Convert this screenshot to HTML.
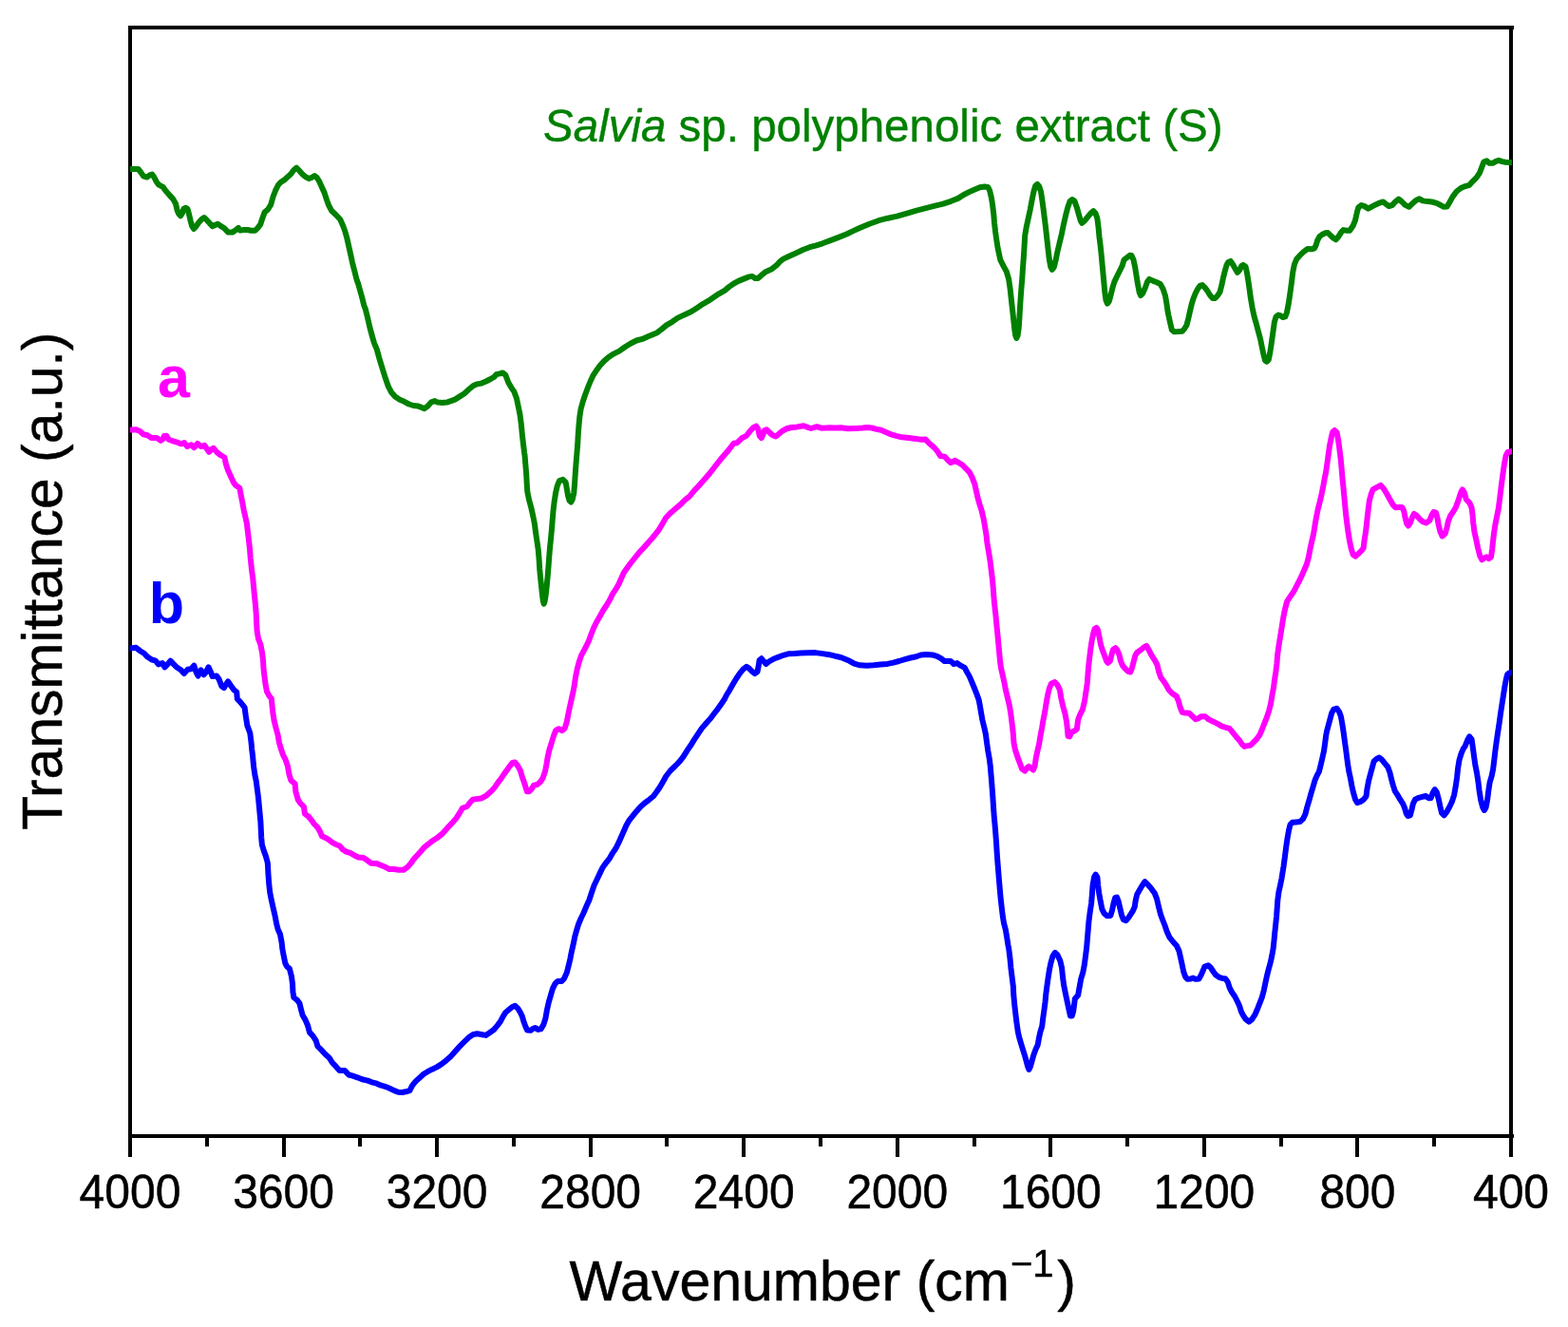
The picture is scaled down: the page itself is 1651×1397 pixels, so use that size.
<!DOCTYPE html>
<html lang="en">
<head>
<meta charset="utf-8">
<title>FTIR spectra</title>
<style>
html,body{margin:0;padding:0;background:#fff;}
body{width:1651px;height:1397px;overflow:hidden;font-family:"Liberation Sans",sans-serif;}
svg{display:block;}
text{font-family:"Liberation Sans",sans-serif;}
</style>
</head>
<body>
<svg width="1651" height="1397" viewBox="0 0 1651 1397">
<rect x="0" y="0" width="1651" height="1397" fill="#ffffff"/>
<g shape-rendering="crispEdges" fill="#000">
<rect x="135" y="27" width="1459" height="4"/>
<rect x="135" y="1194" width="1459" height="4"/>
<rect x="135" y="27" width="4" height="1191"/>
<rect x="1589" y="27" width="4" height="1191"/>
</g>
<clipPath id="plotclip"><rect x="137" y="20" width="1455" height="1180"/></clipPath>
<g fill="none" stroke-linejoin="round" stroke-linecap="butt" stroke-width="6.0" clip-path="url(#plotclip)">
<path stroke="#008000" d="M133.0,178.1 L137.1,178.1 L145.6,177.9 L148.6,181.8 L151.0,185.4 L154.7,186.6 L157.7,184.4 L160.1,183.6 L162.3,186.6 L165.2,192.1 L167.4,194.7 L171.6,196.9 L174.8,201.2 L178.4,205.4 L182.3,209.6 L185.0,214.5 L186.7,221.8 L188.3,225.4 L190.2,227.2 L192.0,224.2 L193.4,219.9 L195.3,218.7 L197.4,219.9 L199.0,225.4 L200.7,232.7 L202.2,238.1 L204.0,240.9 L206.6,238.1 L210.0,233.3 L212.8,230.4 L214.9,229.0 L217.5,231.4 L220.8,235.1 L223.7,238.1 L226.8,236.9 L229.2,235.7 L232.2,237.9 L235.2,239.6 L237.6,241.7 L240.1,244.5 L244.9,244.5 L248.6,241.8 L251.0,239.9 L252.8,242.4 L257.0,242.1 L260.7,242.0 L264.3,242.7 L268.5,242.7 L271.5,239.9 L274.2,236.3 L276.6,229.0 L278.6,223.6 L282.1,220.5 L285.1,215.7 L287.5,207.2 L289.8,201.2 L293.1,194.5 L295.8,191.7 L299.4,189.4 L303.1,186.1 L306.4,183.0 L309.5,178.8 L312.2,176.7 L315.0,179.5 L318.3,183.2 L321.8,186.3 L325.4,188.0 L328.5,186.7 L331.3,185.0 L333.6,186.8 L336.2,191.0 L338.9,197.1 L341.5,202.6 L343.8,209.8 L346.0,215.9 L349.0,221.7 L353.3,225.7 L358.2,231.0 L361.2,237.7 L363.4,243.7 L365.4,251.0 L367.3,259.5 L369.2,268.0 L371.0,276.4 L373.2,284.9 L375.3,293.4 L377.4,299.5 L379.4,306.7 L381.1,312.8 L383.2,321.3 L384.9,325.7 L387.0,334.2 L389.5,345.1 L391.8,353.6 L393.9,360.9 L396.9,368.1 L399.2,376.6 L401.4,383.9 L404.0,392.4 L406.3,399.6 L408.9,406.9 L412.1,413.0 L416.0,417.5 L420.9,420.7 L425.7,422.8 L430.6,425.5 L435.4,427.0 L440.3,427.6 L443.9,428.9 L446.9,430.2 L450.6,427.3 L454.2,423.3 L457.8,422.1 L460.9,423.6 L465.7,424.0 L470.5,423.6 L474.8,422.1 L479.0,420.6 L483.3,417.9 L488.7,414.4 L493.6,410.0 L498.4,406.0 L502.0,404.4 L506.9,403.6 L511.7,401.5 L516.6,399.0 L520.2,396.9 L522.6,394.2 L526.3,393.3 L529.3,392.4 L532.3,394.8 L535.3,402.7 L538.4,408.1 L541.4,412.4 L544.0,419.6 L545.8,428.1 L547.5,436.6 L548.8,446.3 L549.8,457.2 L550.9,466.9 L552.1,476.6 L552.6,480.0 L553.4,489.7 L554.2,499.4 L554.7,509.1 L555.3,517.6 L557.0,526.0 L559.3,534.5 L561.2,543.0 L562.9,551.5 L564.0,560.0 L565.4,569.6 L566.8,579.3 L567.6,589.0 L568.2,598.7 L569.1,608.4 L570.0,616.9 L570.9,625.4 L571.8,632.6 L572.7,635.7 L573.7,632.6 L574.8,625.4 L575.7,616.9 L576.6,607.2 L577.5,596.3 L578.2,586.6 L579.0,576.9 L580.0,567.2 L580.9,557.5 L581.7,547.8 L582.5,538.1 L583.6,528.5 L585.1,518.8 L586.8,511.5 L589.0,506.0 L592.7,504.8 L595.7,507.9 L596.9,515.1 L598.2,522.4 L599.6,527.2 L601.2,528.5 L602.7,526.0 L604.3,518.8 L605.1,509.1 L605.7,499.4 L606.4,489.7 L607.2,480.0 L607.4,477.8 L608.2,468.1 L608.7,458.4 L609.4,448.7 L610.3,439.0 L611.6,430.5 L613.6,423.3 L616.0,416.0 L618.7,408.7 L621.6,401.5 L624.4,395.4 L627.6,390.6 L631.6,385.1 L635.7,380.5 L640.5,376.2 L646.0,372.6 L652.0,369.6 L658.1,365.3 L664.2,361.5 L670.2,358.5 L676.3,356.9 L682.3,354.3 L687.2,352.2 L692.0,350.2 L696.9,346.4 L701.7,342.4 L707.8,338.8 L713.3,334.9 L720.6,331.4 L727.9,328.1 L733.9,324.2 L740.0,320.1 L746.0,316.7 L752.1,312.6 L756.9,309.3 L763.0,305.9 L767.8,301.9 L772.7,298.5 L777.5,295.9 L783.6,293.4 L788.4,291.4 L792.1,290.9 L795.1,293.0 L798.1,293.0 L801.8,289.7 L806.6,285.9 L812.7,283.2 L817.5,279.4 L821.1,275.4 L824.8,272.6 L830.8,269.7 L838.1,266.4 L845.4,263.0 L852.6,260.2 L858.7,258.6 L866.0,256.3 L874.4,253.1 L882.9,249.9 L891.4,246.5 L897.3,243.6 L905.7,239.7 L915.4,235.7 L925.1,232.2 L934.8,229.7 L944.5,227.6 L954.2,224.8 L965.1,221.6 L974.8,219.2 L984.5,216.7 L993.0,214.6 L1001.4,211.8 L1008.7,208.9 L1014.8,205.0 L1020.8,201.9 L1026.9,199.3 L1031.7,197.2 L1036.6,196.5 L1040.2,196.9 L1042.1,200.6 L1043.8,207.8 L1045.0,215.1 L1046.2,224.8 L1047.0,234.5 L1048.1,244.2 L1049.3,252.7 L1050.6,261.1 L1053.3,273.6 L1057.0,280.9 L1059.7,285.7 L1062.2,294.2 L1063.6,303.9 L1064.8,314.8 L1066.0,325.7 L1067.2,336.6 L1068.2,346.3 L1069.3,353.5 L1070.3,356.0 L1071.5,353.5 L1072.6,346.3 L1073.3,336.6 L1073.9,325.7 L1074.6,314.8 L1075.4,303.9 L1076.3,293.0 L1077.0,282.1 L1077.8,271.2 L1078.5,260.3 L1079.2,248.1 L1080.6,239.7 L1082.7,230.0 L1084.8,220.3 L1086.6,210.6 L1088.6,200.9 L1090.3,195.5 L1092.3,193.9 L1094.2,196.1 L1096.1,202.1 L1097.5,211.8 L1098.8,221.5 L1100.0,231.2 L1101.2,240.9 L1102.4,251.8 L1103.6,262.7 L1104.9,273.6 L1106.3,280.9 L1107.8,283.9 L1109.7,281.5 L1111.4,274.8 L1113.4,265.1 L1115.7,255.4 L1118.0,245.7 L1120.0,236.0 L1122.2,226.3 L1124.4,217.9 L1126.6,211.8 L1129.0,210.0 L1131.5,211.8 L1133.7,217.9 L1135.7,225.1 L1137.8,232.4 L1139.3,234.8 L1142.1,232.4 L1145.5,228.2 L1148.6,224.5 L1151.2,222.1 L1153.5,224.5 L1155.4,230.0 L1156.6,239.7 L1157.5,249.4 L1158.7,259.0 L1159.7,268.7 L1160.6,278.4 L1161.5,288.1 L1162.4,297.8 L1163.3,307.5 L1164.5,316.0 L1166.0,319.6 L1167.8,317.2 L1169.8,309.9 L1171.5,302.7 L1173.4,296.6 L1176.3,290.5 L1179.3,284.5 L1181.7,279.6 L1183.5,273.6 L1186.6,271.2 L1189.6,268.7 L1191.4,269.0 L1193.5,273.6 L1195.3,282.1 L1196.6,290.5 L1198.0,299.0 L1199.6,307.5 L1201.1,311.1 L1203.2,308.7 L1205.9,302.7 L1208.1,296.6 L1210.2,293.9 L1214.4,295.9 L1218.1,297.3 L1221.7,299.0 L1224.5,303.9 L1226.9,311.1 L1228.4,319.6 L1229.6,328.1 L1230.3,331.6 L1232.2,340.1 L1233.9,347.4 L1236.4,349.2 L1240.6,349.1 L1244.8,348.8 L1247.1,346.1 L1249.4,342.5 L1251.3,335.2 L1252.9,328.0 L1254.6,320.7 L1256.4,314.6 L1258.8,308.6 L1261.4,303.7 L1263.6,300.7 L1266.0,300.1 L1269.0,303.1 L1271.3,306.2 L1274.2,311.0 L1276.9,314.0 L1279.4,314.0 L1282.2,311.0 L1284.5,307.4 L1286.4,300.1 L1287.9,292.8 L1289.7,285.6 L1291.4,279.5 L1293.3,275.9 L1295.7,274.9 L1298.0,278.3 L1300.7,283.1 L1303.0,286.8 L1305.1,284.4 L1307.2,280.1 L1309.0,278.9 L1311.5,280.7 L1312.9,286.8 L1314.3,295.3 L1315.7,305.0 L1317.0,314.6 L1318.7,324.3 L1320.5,332.8 L1322.6,340.1 L1324.8,348.6 L1327.1,357.0 L1328.8,365.5 L1330.6,374.0 L1332.1,379.5 L1333.9,380.7 L1335.7,378.8 L1337.2,371.6 L1338.5,363.1 L1339.7,354.6 L1340.9,346.1 L1341.9,338.9 L1343.6,333.4 L1346.0,331.6 L1348.4,332.4 L1350.8,334.0 L1353.3,333.4 L1354.9,329.2 L1356.6,320.7 L1357.9,312.2 L1359.1,303.7 L1360.2,295.3 L1361.2,286.8 L1362.9,278.3 L1365.2,272.8 L1368.4,269.2 L1372.6,265.2 L1376.9,261.9 L1381.1,262.3 L1384.1,261.3 L1385.8,257.7 L1387.2,252.9 L1389.3,249.2 L1392.0,247.0 L1395.7,245.2 L1398.1,245.0 L1401.1,248.0 L1404.1,250.8 L1406.6,252.3 L1408.8,249.8 L1411.8,245.1 L1414.5,242.1 L1418.2,242.7 L1421.2,242.7 L1424.6,237.8 L1427.0,231.8 L1428.9,223.3 L1430.3,218.4 L1433.3,216.0 L1436.3,216.9 L1440.6,219.6 L1444.8,217.3 L1448.5,215.4 L1452.7,213.6 L1456.3,212.4 L1459.4,214.8 L1462.4,217.0 L1466.0,216.0 L1469.0,212.6 L1472.7,209.7 L1475.7,212.0 L1479.3,215.6 L1483.6,217.8 L1487.2,214.2 L1490.9,210.9 L1494.5,209.3 L1498.1,211.4 L1503.0,212.1 L1507.8,212.5 L1512.7,213.8 L1516.9,216.0 L1519.9,217.8 L1523.6,217.5 L1526.6,212.4 L1529.7,206.9 L1533.7,201.5 L1538.1,198.1 L1542.9,196.1 L1547.2,194.8 L1551.0,190.6 L1554.7,186.9 L1557.9,182.1 L1560.5,175.4 L1562.3,170.6 L1565.4,169.4 L1568.4,171.8 L1572.0,171.8 L1575.0,169.9 L1578.1,168.8 L1581.7,170.1 L1585.3,170.8 L1589.0,170.9 L1592.0,170.9 L1596.0,170.9"/>
<path stroke="#ff00ff" d="M133.0,452.4 L137.1,452.4 L143.2,452.2 L147.4,454.0 L151.0,457.3 L155.3,458.2 L159.5,460.9 L165.0,460.9 L169.2,463.9 L171.6,462.1 L172.8,459.1 L175.3,458.8 L177.7,462.7 L180.7,463.8 L185.6,465.3 L190.4,467.3 L194.0,466.1 L197.1,470.0 L201.3,468.2 L204.3,471.2 L208.0,466.9 L211.6,470.0 L215.2,468.8 L218.2,473.0 L220.1,475.8 L223.1,472.7 L224.9,471.8 L228.6,476.3 L232.8,479.5 L236.4,481.5 L237.8,488.1 L239.7,494.2 L242.4,500.3 L245.7,507.5 L248.0,510.7 L252.2,513.6 L253.4,519.6 L255.1,528.1 L256.6,536.6 L258.3,543.9 L259.9,551.1 L260.9,559.6 L261.9,568.1 L263.0,577.8 L263.7,587.5 L264.0,590.0 L265.0,599.7 L266.3,609.4 L267.2,619.1 L268.0,627.6 L268.9,636.0 L269.7,645.7 L270.1,655.4 L270.6,663.9 L272.0,672.4 L274.3,678.4 L276.0,686.9 L277.0,695.4 L277.5,703.9 L278.5,712.4 L279.6,720.8 L281.0,728.1 L283.3,732.3 L285.8,735.4 L286.6,743.8 L287.4,751.1 L288.6,758.5 L290.7,767.0 L292.7,774.2 L293.9,781.5 L296.0,788.8 L298.1,794.8 L300.6,799.7 L303.0,806.9 L304.5,815.4 L306.3,821.5 L310.6,825.1 L311.4,833.6 L313.9,842.1 L316.3,845.7 L320.0,849.3 L320.9,856.6 L324.5,859.3 L327.4,862.7 L330.9,867.5 L334.4,871.1 L337.2,876.0 L339.0,880.2 L343.3,882.2 L346.9,884.6 L350.5,887.3 L354.2,889.2 L357.8,890.5 L360.8,894.3 L364.5,896.6 L369.3,898.1 L373.6,900.7 L377.2,902.5 L382.6,902.9 L386.9,905.8 L390.5,908.7 L396.6,909.1 L401.4,911.0 L406.3,913.1 L409.9,915.0 L414.7,915.0 L419.6,915.7 L425.0,915.7 L429.3,912.6 L432.7,908.7 L435.6,904.5 L439.5,900.2 L443.8,895.4 L446.9,891.8 L454.2,886.1 L460.3,882.1 L466.3,877.1 L471.3,871.4 L475.9,866.6 L480.6,861.1 L484.0,855.7 L486.9,850.8 L491.8,849.0 L495.0,844.8 L497.8,841.7 L502.7,841.1 L507.5,840.2 L512.4,837.3 L517.2,833.1 L521.3,828.4 L524.1,824.2 L527.4,819.9 L530.6,815.1 L533.6,810.9 L536.7,806.6 L539.6,803.0 L542.1,802.4 L545.0,806.0 L547.8,810.9 L549.5,816.9 L551.7,823.0 L553.6,829.0 L554.8,833.3 L557.2,833.3 L560.0,830.2 L562.0,826.6 L565.7,826.0 L569.0,823.0 L571.5,819.3 L574.0,812.1 L575.4,804.8 L576.6,797.5 L578.5,789.0 L580.8,781.8 L583.0,774.5 L585.1,769.1 L588.1,767.2 L591.7,769.1 L594.7,766.6 L596.8,760.0 L598.4,751.5 L600.2,743.0 L602.1,734.5 L603.7,727.3 L604.8,721.4 L606.0,712.9 L607.7,704.5 L609.6,697.2 L612.1,689.9 L614.7,685.1 L617.3,680.2 L620.1,674.2 L622.8,666.9 L625.2,660.9 L628.2,654.8 L631.7,648.7 L635.0,642.7 L638.3,637.8 L641.9,631.8 L644.8,625.7 L648.0,620.9 L651.6,614.8 L654.2,608.8 L656.9,602.7 L660.3,597.9 L663.9,593.0 L668.7,587.0 L673.7,580.9 L678.3,576.1 L687.2,566.0 L693.1,558.7 L698.2,550.2 L701.0,545.3 L705.5,540.5 L710.4,536.2 L716.5,531.1 L721.4,526.2 L725.7,522.8 L731.3,516.1 L735.9,511.2 L740.8,505.8 L745.6,500.3 L750.5,494.2 L754.2,489.3 L758.0,484.5 L762.7,479.0 L767.4,473.5 L772.5,466.8 L776.1,466.2 L781.0,461.3 L785.8,458.9 L789.6,454.1 L793.1,450.2 L796.2,448.6 L798.2,451.6 L799.8,458.9 L801.7,461.1 L803.3,457.7 L804.7,453.5 L807.1,452.2 L810.2,455.3 L813.2,458.0 L816.9,459.5 L819.9,457.0 L823.6,453.8 L827.8,451.5 L833.3,450.0 L839.4,449.4 L846.1,448.2 L850.3,449.8 L854.0,451.0 L860.0,449.2 L864.9,450.7 L869.8,450.4 L873.3,450.2 L879.4,450.6 L885.4,450.2 L892.7,451.3 L900.0,451.0 L908.5,450.5 L913.3,449.9 L918.1,450.5 L923.0,451.9 L927.8,452.8 L932.7,454.9 L937.5,457.1 L943.6,458.8 L949.6,460.3 L956.9,461.0 L964.2,461.9 L970.2,462.8 L974.5,462.6 L978.7,467.0 L983.6,471.1 L987.0,475.1 L990.2,480.0 L994.5,480.6 L998.1,484.6 L1001.1,487.2 L1005.4,484.8 L1009.6,487.2 L1013.2,489.4 L1016.9,493.1 L1020.6,496.9 L1023.5,502.4 L1026.3,509.6 L1027.9,516.9 L1029.6,524.2 L1031.6,531.4 L1033.6,537.5 L1035.6,546.0 L1037.1,554.5 L1038.5,562.9 L1039.4,571.4 L1040.8,579.7 L1042.4,589.4 L1043.6,599.1 L1044.8,608.8 L1045.7,618.5 L1046.4,628.1 L1047.3,637.8 L1048.4,647.5 L1049.3,657.2 L1050.3,666.9 L1051.2,676.6 L1052.1,686.3 L1053.0,696.0 L1054.0,703.3 L1055.7,710.5 L1057.3,717.8 L1058.9,726.3 L1063.0,743.3 L1064.5,753.0 L1065.7,762.7 L1066.8,772.4 L1067.5,782.1 L1068.9,789.3 L1071.3,796.6 L1073.6,802.7 L1076.0,809.3 L1079.1,811.7 L1081.7,808.1 L1083.3,806.9 L1085.7,808.7 L1087.9,810.5 L1089.6,806.3 L1090.8,797.8 L1092.4,790.5 L1094.1,783.3 L1095.5,774.8 L1097.1,766.3 L1098.5,757.8 L1100.2,749.4 L1101.5,740.9 L1103.0,732.4 L1104.7,725.1 L1106.9,719.7 L1110.6,718.1 L1113.3,720.9 L1115.9,726.3 L1117.3,734.8 L1119.2,743.3 L1121.3,750.6 L1122.9,759.0 L1123.9,767.5 L1124.5,774.8 L1126.3,775.4 L1128.4,770.6 L1131.2,769.7 L1133.9,767.5 L1135.1,757.8 L1137.4,751.8 L1139.9,746.9 L1141.9,738.5 L1143.4,728.8 L1144.8,719.1 L1146.1,702.0 L1147.2,692.4 L1148.4,682.7 L1149.7,674.2 L1151.2,666.9 L1152.6,662.1 L1154.5,660.9 L1156.0,663.3 L1157.5,670.5 L1158.8,677.8 L1160.6,683.9 L1162.9,689.9 L1165.1,696.0 L1166.6,697.8 L1168.8,696.0 L1170.3,689.9 L1172.0,683.9 L1174.5,682.1 L1176.5,684.5 L1178.6,689.9 L1180.0,696.0 L1182.1,700.8 L1184.7,703.9 L1187.8,706.9 L1190.2,707.5 L1191.9,703.3 L1193.8,696.0 L1195.4,689.9 L1197.5,686.7 L1201.1,684.2 L1204.1,681.7 L1207.2,680.0 L1209.5,683.9 L1212.2,689.3 L1215.7,694.8 L1218.4,699.7 L1220.1,706.9 L1222.2,713.0 L1224.8,716.6 L1227.8,720.9 L1230.7,726.3 L1233.9,729.7 L1238.8,733.0 L1241.0,738.4 L1242.6,744.5 L1244.8,749.9 L1247.8,750.6 L1252.1,750.8 L1255.7,754.2 L1258.8,757.2 L1261.8,756.3 L1264.8,754.2 L1269.0,754.2 L1272.7,757.4 L1277.5,759.7 L1282.4,762.2 L1286.0,764.3 L1290.9,766.0 L1294.5,766.9 L1298.0,771.1 L1301.9,776.0 L1305.1,779.6 L1308.1,783.9 L1310.2,785.9 L1313.9,785.1 L1316.9,784.5 L1319.9,781.4 L1323.4,777.8 L1326.4,773.6 L1329.0,767.5 L1331.4,761.4 L1333.8,755.4 L1336.2,748.1 L1338.0,740.9 L1339.4,732.4 L1341.0,723.9 L1342.1,715.4 L1343.4,706.9 L1344.4,698.5 L1345.2,688.8 L1346.4,680.3 L1347.8,671.8 L1349.2,663.3 L1350.5,654.8 L1351.3,649.9 L1353.0,641.4 L1355.3,632.9 L1358.5,628.1 L1361.9,623.3 L1365.1,617.2 L1368.2,611.1 L1371.1,605.1 L1373.7,599.0 L1375.8,594.2 L1377.8,586.9 L1379.4,578.4 L1381.2,570.0 L1383.2,561.5 L1384.5,553.0 L1386.0,544.5 L1387.7,536.0 L1389.9,527.6 L1391.8,519.1 L1393.5,510.6 L1395.0,502.1 L1396.0,497.8 L1397.4,488.1 L1398.7,478.5 L1400.1,468.8 L1401.8,460.3 L1403.2,454.8 L1405.3,453.0 L1407.7,455.4 L1409.2,463.9 L1410.5,473.6 L1411.7,483.3 L1412.6,493.0 L1413.4,502.7 L1414.4,512.4 L1415.3,522.1 L1416.2,531.8 L1417.1,541.4 L1418.3,551.1 L1419.6,560.8 L1421.0,569.3 L1422.8,577.8 L1424.7,583.8 L1427.1,585.7 L1430.1,583.1 L1433.1,580.2 L1435.6,577.2 L1436.5,569.3 L1437.9,560.8 L1438.9,552.4 L1439.8,543.9 L1440.8,535.4 L1441.9,526.9 L1443.5,520.9 L1445.6,515.4 L1449.5,513.1 L1453.8,510.9 L1457.1,514.8 L1460.4,520.2 L1463.4,525.7 L1466.9,531.8 L1469.5,534.2 L1473.7,534.0 L1476.2,533.9 L1478.2,537.8 L1479.6,545.1 L1481.1,551.1 L1482.8,553.6 L1484.9,550.5 L1487.0,544.5 L1488.9,540.8 L1491.9,543.0 L1495.2,546.9 L1498.0,549.1 L1501.6,550.5 L1505.2,548.1 L1507.6,542.1 L1509.5,539.0 L1511.9,539.6 L1513.4,545.1 L1514.7,552.4 L1516.4,559.6 L1518.6,564.5 L1521.6,562.0 L1523.4,556.0 L1524.9,548.7 L1527.3,542.7 L1529.9,539.0 L1532.8,534.2 L1535.5,526.9 L1538.2,518.4 L1539.8,515.4 L1541.8,518.4 L1543.8,525.7 L1547.3,529.3 L1549.5,534.2 L1550.6,542.7 L1551.3,551.1 L1552.4,559.6 L1554.3,568.1 L1556.1,576.6 L1558.2,585.1 L1560.4,589.3 L1562.8,587.6 L1565.2,586.3 L1567.6,588.1 L1570.0,586.3 L1571.2,577.8 L1572.1,569.3 L1573.1,560.8 L1574.4,552.4 L1576.1,543.9 L1577.8,535.4 L1578.9,526.9 L1580.1,517.2 L1581.3,507.5 L1582.6,497.8 L1584.0,488.1 L1585.6,479.7 L1587.6,476.0 L1591.9,475.1 L1596.0,475.1"/>
<path stroke="#0000ff" d="M133.0,682.4 L137.1,682.4 L143.2,681.8 L147.4,685.2 L151.7,687.8 L155.3,691.6 L159.5,694.3 L163.8,695.7 L166.8,699.4 L171.0,698.1 L173.5,702.4 L176.4,699.4 L179.5,695.7 L182.5,698.8 L186.2,702.6 L190.4,705.3 L193.8,709.0 L197.7,704.8 L201.3,704.2 L204.3,700.6 L206.6,707.8 L208.6,711.5 L211.6,705.4 L214.6,710.3 L216.8,707.8 L219.5,702.4 L221.8,707.2 L223.7,712.1 L228.0,711.5 L230.6,715.1 L233.4,722.4 L235.8,724.2 L238.3,720.0 L240.1,717.5 L243.0,721.8 L246.6,726.6 L249.2,728.4 L249.8,735.7 L253.3,739.3 L257.6,744.8 L258.8,753.9 L260.3,763.6 L263.3,771.8 L264.4,780.3 L265.2,788.8 L266.2,797.2 L267.1,806.9 L268.3,815.4 L269.8,822.7 L270.9,831.2 L272.0,839.6 L272.8,848.1 L273.6,856.6 L274.4,865.1 L274.8,873.6 L275.2,882.0 L275.9,889.3 L277.7,895.4 L279.9,901.4 L281.6,907.5 L281.9,909.7 L282.4,919.4 L283.1,929.1 L284.1,938.8 L285.7,947.2 L287.6,955.7 L289.6,964.2 L291.2,972.7 L292.8,978.7 L295.0,983.6 L296.6,992.1 L297.4,999.3 L298.8,1006.6 L300.3,1013.9 L302.1,1017.5 L304.9,1019.9 L306.8,1027.2 L308.0,1035.7 L308.4,1044.2 L309.4,1050.2 L313.0,1052.9 L315.4,1056.3 L317.0,1062.7 L318.6,1068.8 L321.5,1073.6 L324.1,1079.7 L326.0,1086.9 L329.5,1090.6 L332.6,1095.4 L334.5,1101.5 L338.7,1105.7 L342.4,1109.7 L346.7,1113.6 L350.1,1119.0 L353.9,1122.9 L357.5,1126.9 L363.0,1126.9 L367.2,1131.5 L371.5,1132.7 L376.3,1134.3 L381.2,1136.3 L387.2,1137.6 L391.5,1139.3 L395.7,1140.3 L400.5,1142.4 L405.4,1143.8 L410.2,1145.7 L415.1,1148.1 L419.3,1149.7 L423.6,1150.0 L427.2,1149.3 L431.4,1148.1 L434.2,1142.7 L437.7,1138.4 L441.7,1134.7 L446.0,1130.8 L450.2,1128.2 L455.1,1125.7 L459.9,1123.4 L464.7,1120.4 L469.6,1116.6 L474.3,1112.4 L478.7,1107.5 L483.0,1102.7 L487.2,1098.4 L494.5,1091.4 L498.2,1089.0 L502.4,1088.3 L506.7,1089.0 L511.5,1089.9 L515.1,1087.5 L520.0,1084.0 L523.7,1079.6 L526.9,1075.4 L529.8,1069.9 L532.5,1065.7 L536.3,1062.5 L539.4,1060.0 L542.4,1058.8 L545.1,1061.4 L547.8,1065.7 L549.8,1069.9 L551.6,1076.0 L553.4,1080.8 L555.1,1084.5 L558.7,1084.7 L561.2,1082.9 L563.6,1082.0 L566.6,1083.9 L569.6,1083.3 L572.4,1078.4 L574.3,1072.4 L575.8,1063.9 L577.7,1055.4 L579.8,1048.1 L581.9,1040.9 L584.6,1035.4 L587.2,1033.0 L591.4,1033.0 L594.1,1030.0 L596.8,1023.9 L598.7,1016.6 L600.4,1009.4 L601.8,1002.1 L603.5,994.8 L605.2,986.3 L607.2,979.1 L609.1,973.0 L611.6,967.0 L614.3,961.5 L617.1,954.8 L620.3,947.8 L623.1,939.3 L625.6,932.0 L628.5,926.0 L631.4,919.9 L634.2,913.9 L637.6,909.0 L641.5,904.2 L645.0,898.1 L648.3,893.3 L651.4,887.2 L654.0,881.2 L656.8,875.1 L659.4,869.0 L662.1,864.2 L665.9,859.4 L670.3,853.9 L674.5,849.2 L678.7,845.5 L683.6,841.8 L688.0,838.2 L691.6,833.3 L694.9,828.5 L698.1,823.0 L701.4,817.0 L705.7,811.5 L710.9,806.5 L715.6,801.7 L719.3,796.9 L723.1,790.8 L727.2,784.8 L731.0,778.7 L735.0,772.7 L739.0,766.6 L743.7,761.2 L748.2,756.3 L751.7,751.5 L755.6,746.6 L759.4,741.2 L762.7,736.3 L765.1,731.5 L768.2,726.6 L771.6,720.6 L775.2,714.5 L778.8,709.1 L782.4,704.6 L786.0,701.8 L788.4,703.3 L791.5,706.5 L794.5,709.1 L797.5,707.2 L798.7,701.2 L799.6,695.1 L801.8,693.3 L804.2,696.3 L806.6,699.0 L809.6,696.5 L813.9,694.1 L818.7,692.1 L824.8,689.8 L830.8,688.2 L836.9,688.0 L842.9,687.6 L850.2,687.3 L858.7,687.1 L866.0,688.1 L873.2,689.2 L879.3,690.7 L885.3,692.0 L894.5,695.8 L899.4,698.7 L905.4,700.3 L912.7,700.7 L920.0,700.2 L927.2,699.5 L934.5,698.9 L940.6,697.6 L946.6,696.0 L952.7,694.1 L958.7,692.5 L964.8,691.3 L969.6,689.5 L975.7,688.9 L981.8,689.4 L986.6,690.9 L990.8,693.2 L994.5,696.0 L1001.1,696.0 L1004.2,699.1 L1007.8,698.1 L1011.4,700.7 L1015.7,702.9 L1018.2,707.6 L1020.9,712.4 L1023.5,718.5 L1026.0,724.5 L1028.4,730.6 L1030.6,736.6 L1032.0,743.9 L1033.2,751.2 L1034.5,758.4 L1036.3,765.7 L1037.9,773.0 L1039.0,781.4 L1040.2,789.9 L1041.7,798.4 L1042.8,806.9 L1043.5,815.4 L1044.2,823.8 L1045.4,839.7 L1046.0,849.4 L1046.7,859.1 L1047.6,868.8 L1048.4,878.5 L1049.1,888.1 L1049.7,897.8 L1050.4,907.5 L1051.2,917.2 L1052.0,926.9 L1052.8,936.6 L1053.7,946.3 L1054.8,956.0 L1055.8,964.5 L1057.0,971.7 L1058.9,979.0 L1060.3,987.5 L1061.4,994.7 L1062.3,999.4 L1063.5,1009.1 L1064.4,1018.8 L1065.6,1028.5 L1066.8,1038.1 L1067.3,1047.8 L1068.2,1057.5 L1069.3,1067.2 L1070.5,1076.9 L1071.9,1086.6 L1073.3,1092.7 L1075.1,1098.7 L1077.0,1104.8 L1078.9,1110.8 L1080.6,1116.9 L1082.2,1122.9 L1083.4,1126.0 L1084.9,1122.9 L1086.6,1116.9 L1088.3,1110.8 L1090.5,1104.8 L1092.7,1099.9 L1094.0,1092.7 L1095.3,1086.6 L1097.2,1080.5 L1098.2,1072.1 L1099.4,1063.6 L1100.5,1055.1 L1101.3,1046.6 L1102.4,1038.1 L1103.6,1029.7 L1104.9,1021.2 L1106.4,1013.9 L1108.4,1006.7 L1110.9,1002.8 L1113.5,1005.4 L1116.3,1011.5 L1118.0,1018.8 L1119.0,1028.5 L1120.1,1036.9 L1121.8,1045.4 L1123.6,1053.9 L1125.4,1062.4 L1127.0,1069.6 L1128.7,1069.6 L1130.1,1064.8 L1131.1,1057.5 L1131.8,1051.5 L1135.1,1047.8 L1136.6,1039.4 L1138.1,1030.9 L1140.3,1023.6 L1141.9,1015.1 L1143.0,1006.7 L1144.1,998.2 L1146.4,970.5 L1147.6,960.8 L1149.1,951.1 L1149.9,941.4 L1150.6,931.8 L1152.1,923.3 L1153.6,920.6 L1155.4,923.3 L1156.1,931.8 L1157.2,940.2 L1158.7,948.7 L1160.4,957.2 L1162.5,961.4 L1165.7,964.2 L1169.3,963.9 L1171.0,958.4 L1172.5,951.1 L1174.2,945.1 L1176.0,944.5 L1177.6,948.7 L1179.3,956.0 L1181.0,963.3 L1182.9,968.1 L1185.7,969.1 L1188.0,966.3 L1190.0,963.3 L1192.8,959.0 L1194.7,954.8 L1195.8,947.5 L1197.3,941.4 L1199.4,937.8 L1202.2,933.0 L1205.4,928.1 L1208.6,931.2 L1212.2,935.4 L1215.7,940.2 L1218.1,946.3 L1220.1,955.1 L1222.0,962.4 L1224.2,968.5 L1226.6,974.5 L1228.6,980.6 L1231.3,986.6 L1235.2,991.5 L1239.0,995.7 L1241.5,1001.2 L1243.1,1008.4 L1244.7,1015.7 L1246.2,1023.0 L1248.2,1028.4 L1250.3,1030.8 L1253.9,1030.4 L1256.3,1029.6 L1258.8,1030.8 L1262.4,1030.5 L1264.6,1026.6 L1266.7,1021.8 L1268.4,1017.5 L1272.1,1016.3 L1274.8,1018.7 L1277.6,1023.0 L1280.3,1026.6 L1283.6,1028.8 L1287.2,1029.9 L1290.2,1030.2 L1292.8,1033.9 L1294.7,1039.9 L1297.2,1044.8 L1300.2,1049.0 L1303.0,1054.5 L1305.2,1059.3 L1306.9,1064.8 L1309.0,1069.0 L1311.9,1073.2 L1315.1,1075.7 L1318.2,1073.2 L1321.6,1067.8 L1324.2,1061.7 L1326.6,1055.7 L1328.9,1049.6 L1330.8,1042.4 L1332.3,1035.1 L1333.9,1027.8 L1335.7,1020.5 L1337.7,1013.3 L1339.3,1006.0 L1340.6,998.7 L1341.5,990.3 L1342.3,981.8 L1343.2,973.3 L1344.1,964.8 L1344.7,956.3 L1345.3,947.9 L1346.4,939.4 L1348.0,932.1 L1349.5,924.8 L1351.6,911.7 L1352.9,902.0 L1354.1,892.4 L1355.5,882.7 L1357.0,874.2 L1358.5,868.1 L1360.9,865.7 L1365.1,865.4 L1368.8,865.1 L1372.0,862.1 L1374.4,857.2 L1376.2,850.0 L1378.4,842.7 L1380.4,835.4 L1382.6,828.1 L1384.7,820.9 L1386.9,816.0 L1388.9,812.4 L1390.7,805.1 L1392.4,797.9 L1394.0,790.6 L1395.2,782.1 L1396.1,774.8 L1397.0,770.0 L1402.2,750.6 L1404.2,746.9 L1407.5,745.7 L1410.1,749.4 L1411.9,754.2 L1413.4,762.7 L1414.7,771.2 L1415.8,779.6 L1417.0,788.1 L1418.1,796.6 L1419.2,805.1 L1420.4,812.4 L1422.0,819.6 L1423.3,826.9 L1424.9,834.2 L1427.0,841.4 L1429.1,845.1 L1432.1,844.2 L1435.7,841.7 L1438.5,838.4 L1439.5,830.5 L1441.1,822.0 L1443.0,814.8 L1445.0,807.5 L1446.6,801.4 L1449.7,798.7 L1452.3,797.6 L1454.9,799.6 L1458.3,803.9 L1461.3,807.5 L1463.5,813.6 L1465.2,820.8 L1466.9,826.9 L1468.8,832.9 L1471.3,836.6 L1474.1,841.4 L1477.3,846.3 L1479.2,851.1 L1480.8,856.6 L1482.4,859.0 L1484.8,858.4 L1486.5,852.3 L1487.8,846.3 L1490.2,841.4 L1493.9,839.8 L1497.5,838.9 L1501.2,838.0 L1504.2,840.2 L1506.6,840.2 L1508.6,834.8 L1510.8,831.1 L1512.9,834.2 L1514.8,841.4 L1516.3,848.7 L1518.1,856.0 L1520.5,858.4 L1523.3,854.7 L1526.6,848.7 L1528.9,843.8 L1531.2,836.6 L1532.7,828.1 L1534.1,818.4 L1535.1,808.7 L1536.5,800.2 L1538.7,793.0 L1540.8,788.1 L1542.6,785.7 L1545.5,778.4 L1547.2,775.4 L1549.6,778.4 L1550.8,786.9 L1552.1,796.6 L1553.3,805.1 L1555.0,813.6 L1556.5,823.3 L1557.5,831.7 L1559.0,841.4 L1561.2,849.9 L1562.9,852.9 L1564.6,849.9 L1566.2,841.4 L1567.4,831.7 L1568.7,823.3 L1570.6,817.2 L1572.1,809.9 L1573.3,800.2 L1574.4,790.5 L1575.7,780.9 L1577.1,771.2 L1578.6,761.5 L1579.9,751.8 L1581.4,742.1 L1582.9,732.4 L1584.4,722.7 L1586.0,714.2 L1587.2,710.0 L1589.6,708.2 L1592.0,708.2 L1596.0,708.2"/>
</g>
<g stroke="#000" stroke-width="4" stroke-linecap="butt" shape-rendering="crispEdges">
<line x1="137.00" y1="1196" x2="137.00" y2="1218"/>
<line x1="298.56" y1="1196" x2="298.56" y2="1218"/>
<line x1="460.11" y1="1196" x2="460.11" y2="1218"/>
<line x1="621.67" y1="1196" x2="621.67" y2="1218"/>
<line x1="783.22" y1="1196" x2="783.22" y2="1218"/>
<line x1="944.78" y1="1196" x2="944.78" y2="1218"/>
<line x1="1106.33" y1="1196" x2="1106.33" y2="1218"/>
<line x1="1267.89" y1="1196" x2="1267.89" y2="1218"/>
<line x1="1429.44" y1="1196" x2="1429.44" y2="1218"/>
<line x1="1591.00" y1="1196" x2="1591.00" y2="1218"/>
<line x1="217.78" y1="1196" x2="217.78" y2="1207"/>
<line x1="379.33" y1="1196" x2="379.33" y2="1207"/>
<line x1="540.89" y1="1196" x2="540.89" y2="1207"/>
<line x1="702.44" y1="1196" x2="702.44" y2="1207"/>
<line x1="864.00" y1="1196" x2="864.00" y2="1207"/>
<line x1="1025.56" y1="1196" x2="1025.56" y2="1207"/>
<line x1="1187.11" y1="1196" x2="1187.11" y2="1207"/>
<line x1="1348.67" y1="1196" x2="1348.67" y2="1207"/>
<line x1="1510.22" y1="1196" x2="1510.22" y2="1207"/>
</g>
<g font-size="48" fill="#000" stroke="#000" stroke-width="0.5" stroke-linejoin="round">
<text transform="translate(137.00,1272) scale(1,1.045)" text-anchor="middle">4000</text>
<text transform="translate(298.56,1272) scale(1,1.045)" text-anchor="middle">3600</text>
<text transform="translate(460.11,1272) scale(1,1.045)" text-anchor="middle">3200</text>
<text transform="translate(621.67,1272) scale(1,1.045)" text-anchor="middle">2800</text>
<text transform="translate(783.22,1272) scale(1,1.045)" text-anchor="middle">2400</text>
<text transform="translate(944.78,1272) scale(1,1.045)" text-anchor="middle">2000</text>
<text transform="translate(1106.33,1272) scale(1,1.045)" text-anchor="middle">1600</text>
<text transform="translate(1267.89,1272) scale(1,1.045)" text-anchor="middle">1200</text>
<text transform="translate(1429.44,1272) scale(1,1.045)" text-anchor="middle">800</text>
<text transform="translate(1591.00,1272) scale(1,1.045)" text-anchor="middle">400</text>
</g>
<text x="866.2" y="1369.2" font-size="59" text-anchor="middle" fill="#000" stroke="#000" stroke-width="0.5" stroke-linejoin="round">Wavenumber (cm<tspan dy="-25.5" dx="1" font-size="40">−1</tspan><tspan dy="25.5" dx="3.6">)</tspan></text>
<text transform="translate(64.5,611.7) rotate(-90)" font-size="58.85" text-anchor="middle" fill="#000" stroke="#000" stroke-width="0.5" stroke-linejoin="round">Transmittance (a.u.)</text>
<text x="572" y="149" font-size="47.5" fill="#008000" stroke="#008000" stroke-width="0.4" stroke-linejoin="round"><tspan font-style="italic">Salvia</tspan> sp. polyphenolic extract (S)</text>
<text x="166" y="418.3" font-size="61" font-weight="bold" fill="#ff00ff">a</text>
<text x="156.8" y="655.9" font-size="61" font-weight="bold" fill="#0000ff">b</text>
</svg>
</body>
</html>
